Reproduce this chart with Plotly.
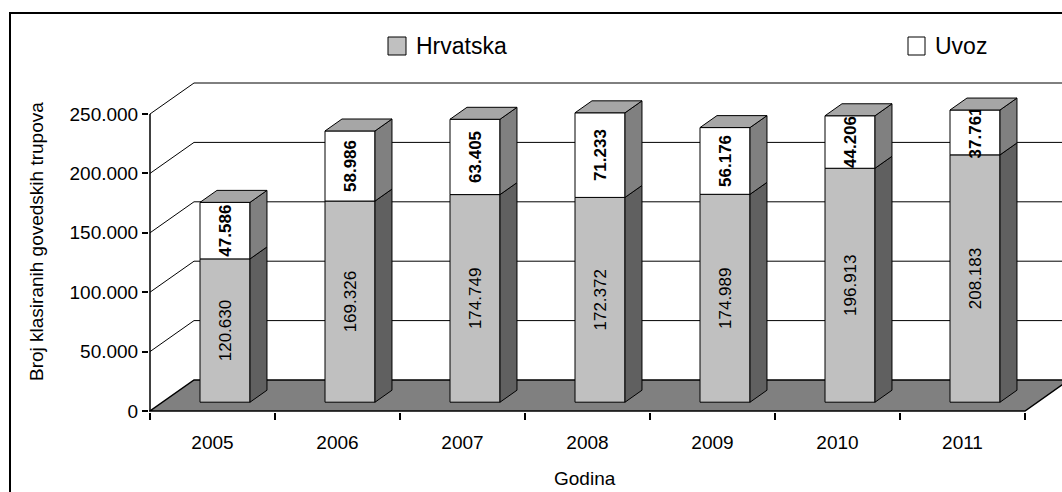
import plotly.graph_objects as go

# ---------------- data ----------------
years = ['2005', '2006', '2007', '2008', '2009', '2010', '2011']
hrvatska = [120630, 169326, 174749, 172372, 174989, 196913, 208183]
uvoz = [47586, 58986, 63405, 71233, 56176, 44206, 37761]
series_names = ['Hrvatska', 'Uvoz']
y_tick_vals = [0, 50000, 100000, 150000, 200000, 250000]
y_tick_text = ['0', '50.000', '100.000', '150.000', '200.000', '250.000']
x_title = 'Godina'
y_title = 'Broj klasiranih govedskih trupova'

# ---------------- geometry / style ----------------
W, H = 1062, 492
ML, MR, MT, MB = 149, 0, 60, 80
PX_PER_CAT = 125.0
PX_PER_UNIT = 297.0 / 250000.0
X0 = -0.5 - 1.0 / PX_PER_CAT
X1 = X0 + (W - ML - MR) / PX_PER_CAT
Y0 = -1.0 / PX_PER_UNIT
Y1 = Y0 + (H - MT - MB) / PX_PER_UNIT

DX = 44.0 / PX_PER_CAT          # depth of the 3D box (data units)
DY = 31.0 / PX_PER_UNIT
F1, F2 = 0.284, 0.67            # bar front / back depth fractions
BAR_W = 0.4
dDX, dDY = (F2 - F1) * DX, (F2 - F1) * DY

FONT = 'Liberation Sans, Arial, sans-serif'
C_HR, C_HR_SIDE = '#C0C0C0', '#606060'
C_UV, C_UV_SIDE = '#FFFFFF', '#808080'
C_TOP = '#A6A6A6'
C_FLOOR = '#808080'


def fmt(v):
    return f'{v:,}'.replace(',', '.')


def px_x(px):
    return (px - ML) / (W - ML - MR)


def px_y(py):
    return (H - MB - py) / (H - MT - MB)


n = len(years)
xc = [i + F1 * DX for i in range(n)]
base0 = F1 * DY
uv_base = [base0 + h for h in hrvatska]

fig = go.Figure()

fig.add_trace(go.Bar(
    x=xc, y=hrvatska, base=[base0] * n, width=BAR_W, name=series_names[0],
    marker=dict(color=C_HR, line=dict(color='black', width=1)),
    text=[fmt(v) for v in hrvatska], textposition='inside', insidetextanchor='middle',
    textangle=-90, textfont=dict(family=FONT, size=17, color='black'),
    showlegend=False, hoverinfo='skip'))

fig.add_trace(go.Bar(
    x=xc, y=uvoz, base=uv_base, width=BAR_W, name=series_names[1],
    marker=dict(color=C_UV, line=dict(color='black', width=1)),
    text=[fmt(v) for v in uvoz], textposition='inside', insidetextanchor='middle',
    textangle=-90, textfont=dict(family=FONT, size=17, color='black', weight='bold'),
    showlegend=False, hoverinfo='skip'))


def poly_trace(polys, color):
    xs, ys = [], []
    for p in polys:
        for a, b in p + [p[0]]:
            xs.append(a)
            ys.append(b)
        xs.append(None)
        ys.append(None)
    return go.Scatter(x=xs, y=ys, mode='lines', fill='toself', fillcolor=color,
                      line=dict(color='black', width=1), hoverinfo='skip',
                      showlegend=False)


hr_sides, uv_sides, tops = [], [], []
for i in range(n):
    xr = xc[i] + BAR_W / 2
    xl = xc[i] - BAR_W / 2
    ya, yb = base0, base0 + hrvatska[i]
    yt = yb + uvoz[i]
    hr_sides.append([(xr, ya), (xr + dDX, ya + dDY), (xr + dDX, yb + dDY), (xr, yb)])
    uv_sides.append([(xr, yb), (xr + dDX, yb + dDY), (xr + dDX, yt + dDY), (xr, yt)])
    tops.append([(xl, yt), (xr, yt), (xr + dDX, yt + dDY), (xl + dDX, yt + dDY)])

fig.add_trace(poly_trace(hr_sides, C_HR_SIDE))
fig.add_trace(poly_trace(uv_sides, C_UV_SIDE))
fig.add_trace(poly_trace(tops, C_TOP))

shapes = []
# floor
xl0, xr0 = -0.5, n - 0.5
shapes.append(dict(type='path', xref='x', yref='y', layer='below',
                   path=f'M {xl0},0 L {xr0},0 L {xr0 + DX},{DY} L {xl0 + DX},{DY} Z',
                   fillcolor=C_FLOOR, line=dict(color='black', width=1.5)))
# walls gridlines
for v in y_tick_vals[1:]:
    shapes.append(dict(type='line', xref='x', yref='y', layer='below',
                       x0=xl0, y0=v, x1=xl0 + DX, y1=v + DY,
                       line=dict(color='black', width=1)))
    shapes.append(dict(type='line', xref='x', yref='y', layer='below',
                       x0=xl0 + DX, y0=v + DY, x1=X1 + 1, y1=v + DY,
                       line=dict(color='black', width=1)))
# front value axis line
shapes.append(dict(type='line', xref='x', yref='y', layer='below',
                   x0=xl0, y0=0, x1=xl0, y1=y_tick_vals[-1],
                   line=dict(color='black', width=1.5)))
# outer border
shapes.append(dict(type='rect', xref='paper', yref='paper',
                   x0=px_x(10), y0=px_y(530), x1=px_x(1100), y1=px_y(13),
                   line=dict(color='black', width=2), fillcolor='rgba(0,0,0,0)'))
# legend squares
shapes.append(dict(type='rect', xref='paper', yref='paper',
                   x0=px_x(388), y0=px_y(55), x1=px_x(406), y1=px_y(37),
                   line=dict(color='black', width=1), fillcolor=C_HR))
shapes.append(dict(type='rect', xref='paper', yref='paper',
                   x0=px_x(908), y0=px_y(55), x1=px_x(925), y1=px_y(37),
                   line=dict(color='black', width=1), fillcolor=C_UV))

annotations = [
    dict(xref='paper', yref='paper', x=px_x(414), y=px_y(46), xanchor='left', yanchor='middle',
         text=series_names[0], showarrow=False, font=dict(family=FONT, size=23, color='black')),
    dict(xref='paper', yref='paper', x=px_x(933), y=px_y(46), xanchor='left', yanchor='middle',
         text=series_names[1], showarrow=False, font=dict(family=FONT, size=23, color='black')),
    dict(xref='paper', yref='paper', x=px_x(585), y=px_y(478), xanchor='center', yanchor='middle',
         text=x_title, showarrow=False, font=dict(family=FONT, size=19, color='black')),
    dict(xref='paper', yref='paper', x=px_x(36), y=px_y(242), xanchor='center', yanchor='middle',
         text=y_title, textangle=-90, showarrow=False, font=dict(family=FONT, size=19, color='black')),
]

fig.update_layout(
    width=W, height=H,
    margin=dict(l=ML, r=MR, t=MT, b=MB, pad=0),
    paper_bgcolor='white', plot_bgcolor='white',
    barmode='overlay',
    uniformtext=dict(minsize=17, mode='show'),
    shapes=shapes, annotations=annotations,
    showlegend=False,
    font=dict(family=FONT, size=19, color='black'),
    xaxis=dict(range=[X0, X1], tickmode='array', tickvals=list(range(n)), ticktext=years,
               ticks='outside', ticklen=13, tickcolor='rgba(0,0,0,0)',
               showgrid=False, zeroline=False, showline=False,
               tickfont=dict(family=FONT, size=19, color='black'),
               minor=dict(tickmode='array', tickvals=[i - 0.5 for i in range(n + 1)],
                          ticks='outside', ticklen=7, tickcolor='black', tickwidth=1.5,
                          showgrid=False),
               fixedrange=True),
    yaxis=dict(range=[Y0, Y1], tickmode='array', tickvals=y_tick_vals, ticktext=y_tick_text,
               ticks='outside', ticklen=6, tickcolor='black', tickwidth=1.5,
               showgrid=False, zeroline=False, showline=False,
               tickfont=dict(family=FONT, size=19, color='black'),
               fixedrange=True),
)

fig.write_html('out.html', config={'displayModeBar': False},
               post_script="document.body.style.margin='0';")
